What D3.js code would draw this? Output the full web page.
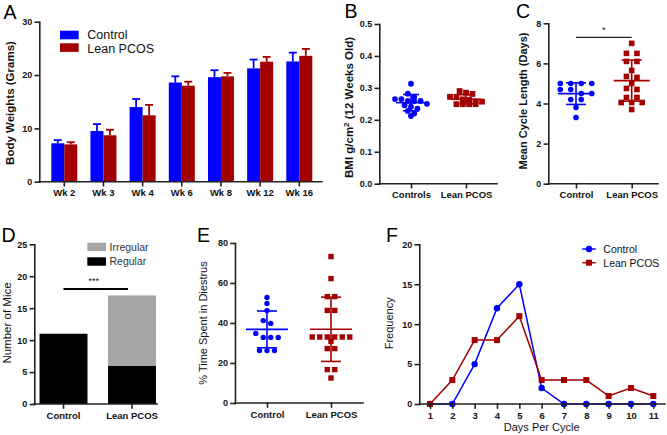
<!DOCTYPE html>
<html><head><meta charset="utf-8">
<script src="https://cdn.jsdelivr.net/npm/d3@7"></script>
<style>
body{margin:0;background:#fff;}
svg{display:block;font-family:'Liberation Sans',Arial,sans-serif;}
</style></head><body>
<svg id="c" width="667" height="435"></svg>
<script>
// ---------- DATA ----------
// Panel A
const weekLabels = ["Wk 2","Wk 3","Wk 4","Wk 6","Wk 8","Wk 12","Wk 16"];
const seriesNames = ["Control","Lean PCOS"];
const controlWeight = [7.2,9.5,14.0,18.6,19.6,21.25,22.55];
const controlWeightErr = [0.6,1.3,1.5,1.15,1.3,1.65,1.65];
const pcosWeight = [7.0,8.7,12.45,18.0,19.75,22.5,23.6];
const pcosWeightErr = [0.4,1.05,1.95,0.75,0.65,0.9,1.3];
const weightTicks = [0,10,20,30];
// Panel B
const bmiGroups = ["Controls","Lean PCOS"];
const bmiControl = [0.313,0.282,0.272,0.265,0.265,0.259,0.259,0.259,0.250,0.246,0.241,0.235,0.228,0.220,0.212];
const bmiPcos = [0.290,0.285,0.281,0.272,0.272,0.264,0.262,0.257,0.257,0.249,0.249,0.249,0.249];
const bmiTicks = [0,0.1,0.2,0.3,0.4,0.5];
// Panel C
const cycleGroups = ["Control","Lean PCOS"];
const cycleControl = [5.0,5.0,5.0,5.0,4.7,4.7,4.5,4.5,4.2,4.2,3.8,3.3];
const cyclePcos = [7.0,6.5,6.5,6.1,6.1,5.65,5.35,5.3,5.0,4.75,4.7,4.3,4.3,4.05,4.05,4.05,3.7];
const cycleTicks = [0,2,4,6,8];
const cycleSigLevel = 7.3;
// Panel D
const miceGroups = ["Control","Lean PCOS"];
const miceRegular = [11,6];
const miceIrregular = [0,11];
const miceTicks = [0,5,10,15,20,25];
const miceSigLevel = 18;
// Panel E
const diestrusGroups = ["Control","Lean PCOS"];
const diestrusControl = [52.8,49.8,46.2,41.2,39.8,34.8,32.8,32.8,32.8,26.2,26.2,26.2];
const diestrusPcos = [73.2,62.2,53.2,53.2,46.3,46.3,33,33,33,33,33,33,30.8,27.2,27.2,16.7,16.7,12.5];
const diestrusTicks = [0,20,40,60,80];
// Panel F
const daysPerCycle = [1,2,3,4,5,6,7,8,9,10,11];
const freqControl = [0,0,5,12,15,2,0,0,0,0,0];
const freqPcos = [0,3,8,8,11,3,3,3,1,2,1];
const freqTicks = [0,5,10,15,20];

// ---------- STYLE ----------
const BLUE = "#0000ff", RED = "#a30000", GRAY = "#a6a6a6", AX = "#222";
const svg = d3.select("#c");

function styleAxis(g, fs) {
  g.selectAll("path, line").attr("stroke", AX).attr("stroke-width", 1.6).attr("stroke-linecap","square");
  g.selectAll("text").attr("fill", "#111").attr("font-weight", "bold").attr("font-size", fs)
    .attr("font-family", "'Liberation Sans', Arial, sans-serif");
}
function leftAxis(x0, y, ticks, fmt) {
  const g = svg.append("g").attr("transform", `translate(${x0},0)`)
    .call(d3.axisLeft(y).tickValues(ticks).tickFormat(fmt).tickSize(4).tickSizeOuter(0).tickPadding(3));
  styleAxis(g, 9);
}
function bottomAxis(yPos, x, ticks, x1, x2, fmt) {
  const ax = d3.axisBottom(x).tickSize(4).tickPadding(4);
  if (ticks) ax.tickValues(ticks);
  if (fmt) ax.tickFormat(fmt);
  const g = svg.append("g").attr("transform", `translate(0,${yPos})`).call(ax);
  g.select(".domain").remove();
  g.insert("line", ":first-child").attr("x1", x1).attr("x2", x2).attr("y1", 0).attr("y2", 0);
  styleAxis(g, 9.5);
}
function panelLetter(x, y, t) {
  svg.append("text").attr("x", x).attr("y", y).attr("font-size", 19.5).attr("fill", "#000").text(t);
}
function yLabel(xb, yc, txt, fs, bold) {
  return svg.append("text").attr("transform", `translate(${xb},${yc}) rotate(-90)`)
    .attr("text-anchor", "middle").attr("font-size", fs).attr("font-weight", bold ? "bold" : "normal")
    .attr("fill", "#111").text(txt);
}
function swarm(values, y, h, s) {
  const idx = values.map((v, i) => i).sort((a, b) => values[b] - values[a]);
  const off = new Array(values.length).fill(0);
  let i = 0;
  while (i < idx.length) {
    const y0 = y(values[idx[i]]);
    const row = [];
    while (i < idx.length && y(values[idx[i]]) - y0 < h) { row.push(idx[i]); i++; }
    row.forEach((k, j) => { off[k] = (j - (row.length - 1) / 2) * s; });
  }
  return off;
}
function dotGroup(values, cx, y, shape, color, opt) {
  const off = swarm(values, y, opt.h, opt.s);
  const m = d3.mean(values), sd = d3.deviation(values);
  const g = svg.append("g").attr("stroke", color).attr("stroke-width", 1.6).attr("fill", "none");
  g.append("line").attr("x1", cx - opt.mw).attr("x2", cx + opt.mw).attr("y1", y(m)).attr("y2", y(m));
  g.append("line").attr("x1", cx).attr("x2", cx).attr("y1", y(m - sd)).attr("y2", y(m + sd));
  [m - sd, m + sd].forEach(v => g.append("line").attr("x1", cx - opt.cw).attr("x2", cx + opt.cw).attr("y1", y(v)).attr("y2", y(v)));
  const p = svg.append("g").attr("fill", color);
  values.forEach((v, i) => {
    if (shape === "circle") p.append("circle").attr("cx", cx + off[i]).attr("cy", y(v)).attr("r", opt.r);
    else p.append("rect").attr("x", cx + off[i] - opt.r).attr("y", y(v) - opt.r).attr("width", 2 * opt.r).attr("height", 2 * opt.r);
  });
}

// ---------- PANEL A ----------
{
  const y = d3.scaleLinear().domain([0, 30]).range([181.7, 21.7]);
  const x0 = d3.scaleBand().domain(weekLabels).range([44.7, 318.9]);
  const x1 = d3.scaleBand().domain(seriesNames).range([0, 26]);
  const series = [
    {name: "Control", vals: controlWeight, err: controlWeightErr, color: BLUE},
    {name: "Lean PCOS", vals: pcosWeight, err: pcosWeightErr, color: RED}
  ];
  series.forEach(s => {
    const g = svg.append("g");
    weekLabels.forEach((w, i) => {
      const left = x0(w) + x0.bandwidth() / 2 - 13 + x1(s.name);
      const cx = left + x1.bandwidth() / 2;
      const v = s.vals[i], top = y(v + s.err[i]);
      g.append("line").attr("x1", cx).attr("x2", cx).attr("y1", y(v)).attr("y2", top).attr("stroke", s.color).attr("stroke-width", 1.8);
      g.append("line").attr("x1", cx - 4).attr("x2", cx + 4).attr("y1", top).attr("y2", top).attr("stroke", s.color).attr("stroke-width", 1.8);
      g.append("rect").attr("x", left).attr("y", y(v)).attr("width", x1.bandwidth()).attr("height", y(0) - y(v)).attr("fill", s.color);
    });
  });
  leftAxis(39.3, y, weightTicks, d3.format("d"));
  bottomAxis(181.7, x0, null, 39.3, 321.7);
  panelLetter(3.5, 19, "A");
  yLabel(14, 103, "Body Weights (Grams)", 11.5, true);
  series.forEach((s, i) => {
    svg.append("rect").attr("x", 60).attr("y", 30.7 + i * 12.6).attr("width", 18.7).attr("height", 8.6).attr("fill", s.color);
    svg.append("text").attr("x", 87.3).attr("y", 38.6 + i * 14.2).attr("font-size", 12.5).attr("fill", "#111").text(s.name);
  });
}

// ---------- PANEL B ----------
{
  const y = d3.scaleLinear().domain([0, 0.5]).range([183.7, 24]);
  const x = d3.scalePoint().domain(bmiGroups).range([383.5, 493.5]).padding(0.5);
  const opt = {h: 5, s: 6.4, r: 2.9, mw: 15, cw: 8};
  dotGroup(bmiControl, x("Controls"), y, "circle", BLUE, opt);
  dotGroup(bmiPcos, x("Lean PCOS"), y, "square", RED, opt);
  leftAxis(379.3, y, bmiTicks, d3.format(".1f"));
  bottomAxis(183.7, x, null, 379.3, 497);
  panelLetter(344.5, 18.3, "B");
  const t = yLabel(353, 107.5, "", 11.5, true);
  t.append("tspan").text("BMI g/cm");
  t.append("tspan").attr("dy", -4).attr("font-size", 8).text("2");
  t.append("tspan").attr("dy", 4).text(" (12 Weeks Old)");
}

// ---------- PANEL C ----------
{
  const y = d3.scaleLinear().domain([0, 8]).range([183.7, 23.3]);
  const x = d3.scalePoint().domain(cycleGroups).range([548.15, 659.55]).padding(0.5);
  const opt = {h: 4.2, s: 10.5, r: 2.8, mw: 18, cw: 10};
  dotGroup(cycleControl, x("Control"), y, "circle", BLUE, opt);
  dotGroup(cyclePcos, x("Lean PCOS"), y, "square", RED, opt);
  leftAxis(548.3, y, cycleTicks, d3.format("d"));
  bottomAxis(183.7, x, null, 548.3, 658);
  panelLetter(516, 18.3, "C");
  yLabel(527, 101, "Mean Cycle Length (Days)", 11, true);
  svg.append("line").attr("x1", x("Control")).attr("x2", x("Lean PCOS"))
    .attr("y1", y(cycleSigLevel)).attr("y2", y(cycleSigLevel)).attr("stroke", "#222").attr("stroke-width", 1.2);
  svg.append("text").attr("x", (x("Control") + x("Lean PCOS")) / 2).attr("y", y(cycleSigLevel) - 4)
    .attr("text-anchor", "middle").attr("font-size", 9).attr("fill", "#111").text("*");
}

// ---------- PANEL D ----------
{
  const y = d3.scaleLinear().domain([0, 25]).range([404, 244.3]);
  const x = d3.scaleBand().domain(miceGroups).range([29.25, 166.25]).paddingInner(0.3).paddingOuter(0.15);
  const rows = miceGroups.map((g, i) => ({group: g, Regular: miceRegular[i], Irregular: miceIrregular[i]}));
  const stack = d3.stack().keys(["Regular", "Irregular"])(rows);
  const colors = {Regular: "#000", Irregular: GRAY};
  stack.forEach(layer => {
    svg.append("g").attr("fill", colors[layer.key]).selectAll("rect").data(layer).join("rect")
      .attr("x", d => x(d.data.group)).attr("width", x.bandwidth())
      .attr("y", d => y(d[1])).attr("height", d => y(d[0]) - y(d[1]));
  });
  leftAxis(34.3, y, miceTicks, d3.format("d"));
  bottomAxis(404, x, null, 34.3, 157);
  panelLetter(1.5, 242, "D");
  yLabel(11, 323, "Number of Mice", 11.5, false);
  const cx1 = x("Control") + x.bandwidth() / 2, cx2 = x("Lean PCOS") + x.bandwidth() / 2;
  svg.append("line").attr("x1", cx1).attr("x2", cx2 - 4).attr("y1", y(miceSigLevel)).attr("y2", y(miceSigLevel))
    .attr("stroke", "#000").attr("stroke-width", 2);
  svg.append("text").attr("x", (cx1 + cx2) / 2 - 4).attr("y", y(miceSigLevel) - 5.5)
    .attr("text-anchor", "middle").attr("font-size", 9).attr("fill", "#111").text("***");
  ["Irregular", "Regular"].forEach((k, i) => {
    svg.append("rect").attr("x", 87.3).attr("y", 242.7 + i * 14.6).attr("width", 18.7).attr("height", 8.4).attr("fill", colors[k]);
    svg.append("text").attr("x", 109.5).attr("y", 250.7 + i * 14.3).attr("font-size", 10.5).attr("fill", "#333").text(k);
  });
}

// ---------- PANEL E ----------
{
  const y = d3.scaleLinear().domain([0, 80]).range([403, 243]);
  const x = d3.scalePoint().domain(diestrusGroups).range([235, 363]).padding(0.5);
  const opt = {h: 4.2, s: 7.5, r: 2.7, mw: 21, cw: 10};
  dotGroup(diestrusControl, x("Control"), y, "circle", BLUE, opt);
  dotGroup(diestrusPcos, x("Lean PCOS"), y, "square", RED, opt);
  leftAxis(235, y, diestrusTicks, d3.format("d"));
  bottomAxis(403, x, null, 235, 363);
  panelLetter(197, 242, "E");
  yLabel(207.3, 323, "% Time Spent in Diestrus", 11, false);
}

// ---------- PANEL F ----------
{
  const y = d3.scaleLinear().domain([0, 20]).range([404, 244.3]);
  const x = d3.scaleLinear().domain([1, 11]).range([430, 653.3]);
  const line = d3.line().x((d, i) => x(daysPerCycle[i])).y(d => y(d));
  const series = [
    {name: "Control", vals: freqControl, color: BLUE, shape: "circle"},
    {name: "Lean PCOS", vals: freqPcos, color: RED, shape: "square"}
  ];
  series.forEach(s => {
    svg.append("path").attr("d", line(s.vals)).attr("fill", "none").attr("stroke", s.color).attr("stroke-width", 1.5);
    const g = svg.append("g").attr("fill", s.color);
    s.vals.forEach((v, i) => {
      if (s.shape === "circle") g.append("circle").attr("cx", x(daysPerCycle[i])).attr("cy", y(v)).attr("r", 3.2);
      else g.append("rect").attr("x", x(daysPerCycle[i]) - 3).attr("y", y(v) - 3).attr("width", 6).attr("height", 6);
    });
  });
  leftAxis(419.3, y, freqTicks, d3.format("d"));
  bottomAxis(404, x, daysPerCycle, 419.3, 665, d3.format("d"));
  panelLetter(386, 242, "F");
  yLabel(393, 323.3, "Frequency", 11, false);
  svg.append("text").attr("x", 541.7).attr("y", 431).attr("text-anchor", "middle").attr("font-size", 11).attr("fill", "#111").text("Days Per Cycle");
  series.forEach((s, i) => {
    const ly = 249 + i * 13.7;
    svg.append("line").attr("x1", 582.3).attr("x2", 595.7).attr("y1", ly).attr("y2", ly).attr("stroke", s.color).attr("stroke-width", 1.5);
    if (s.shape === "circle") svg.append("circle").attr("cx", 589).attr("cy", ly).attr("r", 3.2).attr("fill", s.color);
    else svg.append("rect").attr("x", 586).attr("y", ly - 3).attr("width", 6).attr("height", 6).attr("fill", s.color);
    svg.append("text").attr("x", 603.3).attr("y", ly + 4).attr("font-size", 10.5).attr("fill", "#111").text(s.name);
  });
}
</script>
</body></html>
